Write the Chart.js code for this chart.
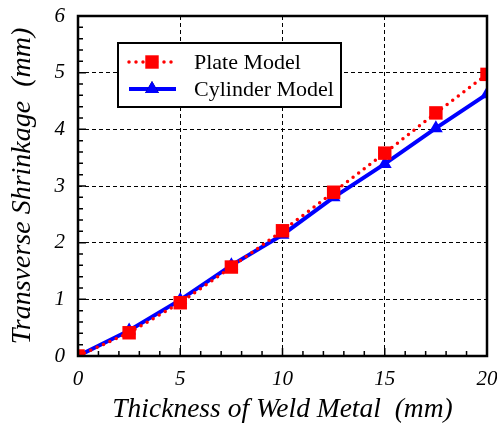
<!DOCTYPE html>
<html>
<head>
<meta charset="utf-8">
<script src="https://cdn.jsdelivr.net/npm/chart.js@4.4.1/dist/chart.umd.min.js"></script>
<style>
  html, body { margin: 0; padding: 0; background: #fff; }
  #wrap { width: 497px; height: 426px; }
</style>
</head>
<body>
<div id="wrap"><canvas id="grafico" width="497" height="426"></canvas></div>
<script>
// valores
const espessura = [0, 2.5, 5, 7.5, 10, 12.5, 15, 17.5, 20];
const placa = [0, 0.41, 0.94, 1.57, 2.21, 2.89, 3.58, 4.29, 4.97];
const cilindro = [0, 0.45, 0.99, 1.6, 2.14, 2.8, 3.39, 4.02, 4.62];
const ticksX = [0, 5, 10, 15, 20];
const ticksY = [0, 1, 2, 3, 4, 5, 6];
const nomes = ['Plate Model', 'Cylinder Model'];

const serif = '"Liberation Serif", "Times New Roman", serif';

// caixa, ticks menores e legenda
const extras = {
  id: 'extras',
  afterDraw(chart) {
    const ctx = chart.ctx;
    const a = chart.chartArea;
    const sx = chart.scales.x, sy = chart.scales.y;
    ctx.save();
    ctx.strokeStyle = '#000';
    ctx.lineWidth = 1.5;
    ctx.beginPath();
    for (let v = 1; v < 20; v++) {
      const px = sx.getPixelForValue(v);
      const len = v % 5 === 0 ? 8 : 5;
      ctx.moveTo(px, a.bottom);
      ctx.lineTo(px, a.bottom - len);
    }
    for (let i = 1; i < 30; i++) {
      const py = sy.getPixelForValue(i * 0.2);
      const len = i % 5 === 0 ? 8 : 5;
      ctx.moveTo(a.left, py);
      ctx.lineTo(a.left + len, py);
    }
    ctx.stroke();
    ctx.lineWidth = 2.5;
    ctx.strokeRect(a.left, a.top, a.right - a.left, a.bottom - a.top);

    // legenda
    const lx = 118, ly = 43, lw = 223, lh = 64;
    ctx.fillStyle = '#fff';
    ctx.fillRect(lx, ly, lw, lh);
    ctx.lineWidth = 2;
    ctx.strokeRect(lx, ly, lw, lh);
    const linhas = [62, 89];
    chart.data.datasets.forEach((ds, i) => {
      const y = linhas[i];
      ctx.save();
      ctx.strokeStyle = ds.borderColor;
      ctx.lineWidth = ds.borderWidth;
      ctx.lineCap = ds.borderCapStyle || 'butt';
      ctx.setLineDash(ds.borderDash || []);
      ctx.beginPath();
      ctx.moveTo(129, y);
      ctx.lineTo(176, y);
      ctx.stroke();
      ctx.restore();
      Chart.helpers.drawPoint(ctx, {
        pointStyle: ds.pointStyle, radius: ds.pointRadius, borderWidth: 0, rotation: 0
      }, 152, y);
      ctx.fillStyle = ds.pointBackgroundColor;
      ctx.fill();
      ctx.fillStyle = '#000';
      ctx.font = '22px ' + serif;
      ctx.textBaseline = 'middle';
      ctx.fillText(ds.label, 194, y + 1);
    });
    ctx.restore();
  }
};

new Chart(document.getElementById('grafico').getContext('2d'), {
  type: 'line',
  data: {
    labels: espessura,
    datasets: [{
      label: nomes[0],
      data: espessura.map((x, i) => ({ x, y: placa[i] })),
      borderColor: '#ff0000',
      borderWidth: 3.5,
      borderDash: [0, 7],
      borderCapStyle: 'round',
      pointStyle: 'rect',
      pointRadius: 9.5,
      pointBackgroundColor: '#ff0000',
      pointBorderWidth: 0,
      tension: 0
    }, {
      label: nomes[1],
      data: espessura.map((x, i) => ({ x, y: cilindro[i] })),
      borderColor: '#0000ff',
      borderWidth: 4,
      pointStyle: 'triangle',
      pointRadius: 8,
      pointBackgroundColor: '#0000ff',
      pointBorderWidth: 0,
      tension: 0
    }]
  },
  options: {
    responsive: false,
    animation: false,
    layout: { padding: { top: 16, right: 10, left: 0, bottom: 0 } },
    plugins: { legend: { display: false }, tooltip: { enabled: false } },
    scales: {
      x: {
        type: 'linear', min: 0, max: 20,
        afterBuildTicks: s => { s.ticks = ticksX.map(v => ({ value: v })); },
        afterFit: s => { s.height = 70; s.paddingLeft = 0; s.paddingRight = 0; },
        grid: { color: '#000', lineWidth: 1, drawTicks: false },
        border: { display: false, dash: [4, 3] },
        ticks: { color: '#000', padding: 11, maxRotation: 0, font: { family: serif, size: 21, style: 'italic' } },
        title: { display: true, text: 'Thickness of Weld Metal  (mm)', color: '#000', padding: { top: 2, bottom: 0 },
          font: { family: serif, size: 27.5, style: 'italic' } }
      },
      y: {
        type: 'linear', min: 0, max: 6,
        afterBuildTicks: s => { s.ticks = ticksY.map(v => ({ value: v })); },
        afterFit: s => { s.width = 78; s.paddingTop = 0; s.paddingBottom = 0; },
        grid: { color: '#000', lineWidth: 1, drawTicks: false },
        border: { display: false, dash: [4, 3] },
        ticks: { color: '#000', padding: 13, font: { family: serif, size: 21, style: 'italic' } },
        title: { display: true, text: 'Transverse Shrinkage  (mm)', color: '#000', padding: { top: 6, bottom: 2 },
          font: { family: serif, size: 28, style: 'italic' } }
      }
    }
  },
  plugins: [extras]
});
</script>
</body>
</html>
